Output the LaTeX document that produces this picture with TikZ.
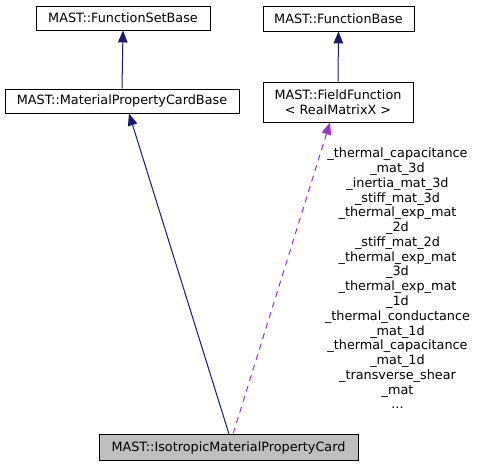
\documentclass[tikz,border=0pt]{standalone}
\usepackage{fontspec}
\setmainfont{DejaVu Sans}
\usetikzlibrary{arrows.meta}
\definecolor{edgeblue}{HTML}{191970}
\definecolor{edgepurple}{HTML}{9A32CD}
\definecolor{nodegray}{HTML}{BFBFBF}
\tikzset{
  cls/.style={draw=black, line width=0.9pt, fill=white, inner sep=0pt, align=center,
    font=\fontsize{12.8}{14.5}\selectfont},
  inherit/.style={draw=edgeblue, line width=1pt, {Triangle[length=12pt,width=9.5pt]}-},
  usage/.style={draw=edgepurple, line width=1pt, dash pattern=on 6pt off 5pt, {Triangle[length=12pt,width=9.5pt,fill=edgepurple]}-},
  lbl/.style={inner sep=0pt, align=center, font=\fontsize{12.8}{14.76}\selectfont}
}
\begin{document}
\begin{tikzpicture}[x=1pt,y=-1pt]
\useasboundingbox (0,0) rectangle (477,467);
\node[cls, minimum width=174pt, minimum height=24pt] (fsb) at (123,18) {MAST::FunctionSetBase};
\node[cls, minimum width=234pt, minimum height=24pt] (mpcb) at (122,101) {MAST::MaterialPropertyCardBase};
\node[cls, minimum width=151pt, minimum height=25pt] (fb) at (338.5,18.5) {MAST::FunctionBase};
\node[cls, minimum width=150pt, minimum height=40pt] (ff) at (338,102) {MAST::FieldFunction\\\textless{} RealMatrixX \textgreater{}};
\node[cls, fill=nodegray, minimum width=259pt, minimum height=26pt] (iso) at (228.5,447.5) {MAST::IsotropicMaterialPropertyCard};
\draw[inherit] (fsb.south) -- (mpcb.north);
\draw[inherit] (fb.south) -- (ff.north);
\draw[inherit] ([xshift=7pt]mpcb.south) -- ([xshift=0.5pt]iso.north);
\draw[usage] ([xshift=-8pt]ff.south) -- ([xshift=4.5pt]iso.north);
\node[lbl] (elbl) at (397.5,278.5) {\_thermal\_capacitance\\\_mat\_3d\\\_inertia\_mat\_3d\\\_stiff\_mat\_3d\\\_thermal\_exp\_mat\\\_2d\\\_stiff\_mat\_2d\\\_thermal\_exp\_mat\\\_3d\\\_thermal\_exp\_mat\\\_1d\\\_thermal\_conductance\\\_mat\_1d\\\_thermal\_capacitance\\\_mat\_1d\\\_transverse\_shear\\\_mat\\...};
\end{tikzpicture}
\end{document}
